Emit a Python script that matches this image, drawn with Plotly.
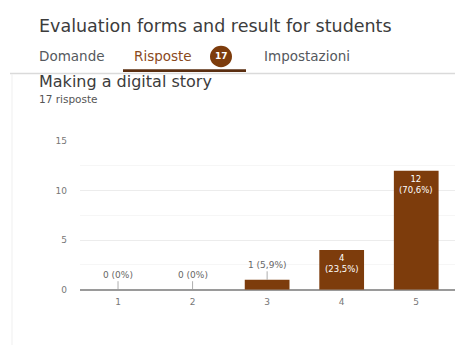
import plotly.graph_objects as go

# ---- data ----
categories = [1, 2, 3, 4, 5]
counts = [0, 0, 1, 4, 12]
pct_labels = ["0%", "0%", "5,9%", "23,5%", "70,6%"]
y_ticks = [0, 5, 10, 15]
total_responses = 17

title_text = "Evaluation forms and result for students"
tab_labels = ["Domande", "Risposte", "Impostazioni"]
question_text = "Making a digital story"
responses_text = f"{total_responses} risposte"

BROWN = "#7d3c0c"
W, H = 455, 353
FONT = "DejaVu Sans"

fig = go.Figure()

fig.add_trace(go.Bar(
    x=categories, y=counts, marker_color=BROWN, marker_line_width=0,
    width=0.6, hoverinfo="skip",
))

inside_thresh = 3
for c, v, p in zip(categories, counts, pct_labels):
    if v < inside_thresh:
        fig.add_annotation(
            x=c, y=v, xref="x", yref="y", text=f"{v} ({p})",
            showarrow=True, arrowhead=0, arrowwidth=0.8, arrowcolor="#999",
            ax=0, ay=-15, font=dict(size=9, color="#666", family=FONT),
            standoff=0, startstandoff=0,
        )
    else:
        fig.add_annotation(
            x=c, y=v, xref="x", yref="y", text=f"{v}<br>({p})",
            showarrow=False, yanchor="top", yshift=-1,
            font=dict(size=8.5, color="white", family=FONT),
        )

def px_x(x):
    return x / W

def px_y(y):
    return 1 - y / H

# Header text
fig.add_annotation(x=px_x(37), y=px_y(22), xref="paper", yref="paper", text=title_text,
                   showarrow=False, xanchor="left", yanchor="middle",
                   font=dict(size=17.5, color="#3c3c3c", family=FONT))

tab_x = [37, 132, 262]
tab_colors = ["#55595e", "#8a4a1c", "#55595e"]
for t, xx, col in zip(tab_labels, tab_x, tab_colors):
    fig.add_annotation(x=px_x(xx), y=px_y(53), xref="paper", yref="paper", text=t,
                       showarrow=False, xanchor="left", yanchor="middle",
                       font=dict(size=13.5, color=col, family=FONT))

# badge
fig.add_shape(type="circle", xref="paper", yref="paper",
              x0=px_x(210), x1=px_x(232), y0=px_y(64), y1=px_y(42),
              fillcolor=BROWN, line_width=0)
fig.add_annotation(x=px_x(221), y=px_y(53), xref="paper", yref="paper", text=f"<b>{total_responses}</b>",
                   showarrow=False, xanchor="center", yanchor="middle",
                   font=dict(size=9, color="white", family=FONT))
# underline of active tab
fig.add_shape(type="rect", xref="paper", yref="paper",
              x0=px_x(123), x1=px_x(246), y0=px_y(69), y1=px_y(66),
              fillcolor="#5a2e10", line_width=0)
# divider
fig.add_shape(type="line", xref="paper", yref="paper",
              x0=px_x(10), x1=1, y0=px_y(70.5), y1=px_y(70.5),
              line=dict(color="#dadada", width=1.5))
# card left edge
fig.add_shape(type="line", xref="paper", yref="paper",
              x0=px_x(12), x1=px_x(12), y0=px_y(71), y1=px_y(350),
              line=dict(color="#efefef", width=1))

fig.add_annotation(x=px_x(37), y=px_y(79), xref="paper", yref="paper", text=question_text,
                   showarrow=False, xanchor="left", yanchor="middle",
                   font=dict(size=16, color="#3c3c3c", family=FONT))
fig.add_annotation(x=px_x(37), y=px_y(97), xref="paper", yref="paper", text=responses_text,
                   showarrow=False, xanchor="left", yanchor="middle",
                   font=dict(size=10.5, color="#555", family=FONT))

fig.update_layout(
    width=W, height=H, margin=dict(l=0, r=0, t=0, b=0),
    paper_bgcolor="white", plot_bgcolor="white", showlegend=False,
    xaxis=dict(domain=[80 / W, 1.0], range=[0.49, 5.52], tickmode="array",
               tickvals=categories, ticktext=[str(c) for c in categories],
               showgrid=False, zeroline=False, showline=False,
               ticks="", ticklabelstandoff=5,
               tickfont=dict(size=9, color="#777", family=FONT)),
    yaxis=dict(domain=[px_y(293), px_y(140)], range=[0, 15], tickmode="array",
               tickvals=y_ticks, showgrid=True, gridcolor="#ececec", gridwidth=1,
               minor=dict(dtick=2.5, showgrid=True, gridcolor="#f6f6f6", gridwidth=1),
               zeroline=True, zerolinecolor="#9a9a9a", zerolinewidth=1.5,
               showline=False, ticks="", ticklabelstandoff=12,
               tickfont=dict(size=9, color="#777", family=FONT)),
)

fig.write_html("out.html", config={"displayModeBar": False},
               post_script="document.body.style.margin='0';document.body.style.overflow='hidden';")
